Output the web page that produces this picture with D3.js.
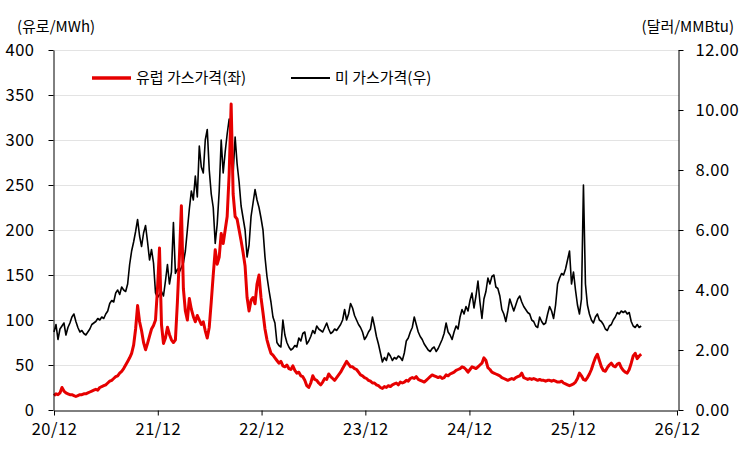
<!DOCTYPE html>
<html>
<head>
<meta charset="utf-8">
<script src="https://cdn.jsdelivr.net/npm/d3@7"></script>
<style>
	body { margin: 0; background: #fff; }
	text { font-family: "Noto Sans CJK KR", "Noto Sans", sans-serif; fill: #000; }
	.grid line { stroke: #e3e3e3; stroke-width: 1; }
	.axis path, .axis line { stroke: #000; stroke-width: 1; }
	.axis text { font-size: 16.5px; letter-spacing: 0.5px; }
</style>
</head>
<body>
<div id="chart"></div>
<script>
////////////////////////////////////////////////////////////
/////////////////////// Data ///////////////////////////////
////////////////////////////////////////////////////////////

//Weekly observations, starting at the first week of Dec 2020
var startDate = "2020-12-01",
	stepDays = 7;

//European gas price (EUR/MWh, left axis)
var euPrice = [
	16,18,17,19,25,21,19,18,17,17,
	16,15,16,17,17,18,18,19,20,21,
	22,23,22,25,26,27,28,30,32,33,
	35,37,38,41,43,46,50,54,58,63,
	72,90,116,98,88,75,67,74,82,90,
	94,100,135,180,95,74,80,92,84,78,
	75,78,120,170,227,135,110,100,124,112,
	104,98,105,100,95,98,88,80,92,120,
	150,178,162,170,196,185,200,215,262,340,
	240,215,212,200,188,175,160,125,110,122,
	125,118,140,150,125,108,90,78,70,63,
	61,58,55,52,54,49,48,50,46,45,
	49,44,41,42,38,37,33,27,25,30,
	38,34,33,30,28,31,35,34,40,37,
	35,33,36,39,42,46,50,54,51,48,
	48,46,45,42,39,38,36,35,33,32,
	30,30,28,27,25,24,26,25,27,26,
	28,29,30,28,31,30,31,33,32,35,
	36,35,37,34,33,32,31,33,35,37,
	39,38,37,36,37,35,36,39,38,40,
	41,42,44,45,46,48,47,45,42,45,
	48,47,46,48,50,52,58,55,47,45,
	42,41,40,39,38,36,35,34,33,34,
	35,34,36,37,38,41,36,35,34,35,
	34,35,34,33,34,33,33,32,33,33,
	32,33,32,31,31,32,30,29,28,27,
	28,29,31,35,41,38,34,33,36,40,
	45,52,58,62,55,48,44,43,47,50,
	52,49,48,51,52,47,44,42,41,45,
	52,60,63,57,60,62
];

//US gas price (USD/MMBtu, right axis)
var usPrice = [
	2.6,2.85,2.35,2.7,2.8,2.9,2.5,2.75,2.9,3.1,
	3.2,2.95,2.75,2.6,2.65,2.55,2.5,2.6,2.7,2.85,
	2.9,2.95,3.05,3.0,3.1,3.05,3.2,3.3,3.55,3.65,
	3.6,3.9,4.0,3.85,4.1,4.0,3.95,4.2,4.85,5.3,
	5.6,5.95,6.35,5.8,5.45,5.9,6.15,5.6,5.0,5.35,
	4.9,3.9,3.75,3.85,3.95,3.8,4.3,4.85,4.2,4.6,
	6.25,4.55,4.7,4.6,4.75,4.9,5.3,6.0,6.7,7.3,
	7.0,7.8,7.1,8.8,8.1,7.9,9.0,9.35,8.0,7.2,
	6.75,5.55,6.2,7.3,9.0,7.9,8.6,9.2,9.7,9.3,
	7.9,9.1,8.2,7.6,6.8,6.4,6.0,5.1,5.5,6.45,
	6.9,7.35,7.0,6.75,6.4,6.0,5.1,4.45,4.0,3.6,
	3.1,2.9,2.25,2.15,2.1,3.0,2.5,2.25,2.1,2.0,
	2.05,2.15,2.1,2.4,2.3,2.55,2.6,2.2,2.3,2.45,
	2.65,2.55,2.8,2.7,2.65,2.6,2.75,2.9,2.7,2.55,
	2.6,2.7,2.65,2.75,2.85,3.0,3.35,3.0,3.2,3.55,
	3.4,3.15,3.0,2.85,2.75,2.6,2.35,2.45,2.6,2.7,
	3.1,2.8,2.45,2.2,1.9,1.6,1.75,1.65,1.9,1.8,
	1.65,1.75,1.7,1.8,1.75,1.65,1.9,2.3,2.4,2.6,
	2.75,3.1,2.85,2.6,2.45,2.35,2.2,2.1,2.0,1.95,
	2.05,2.1,1.95,2.05,2.2,2.35,2.55,2.9,2.6,2.5,
	2.35,2.6,2.8,2.7,3.1,3.35,3.2,3.45,3.3,3.65,
	3.9,3.4,3.8,4.3,3.6,3.05,3.7,3.95,4.4,4.2,
	4.45,4.5,4.1,4.05,3.8,3.35,3.2,2.95,3.3,3.7,
	3.5,3.3,3.5,3.7,3.8,3.6,3.45,3.35,3.25,3.2,
	3.0,2.95,2.8,2.75,3.1,2.95,2.85,2.9,3.2,3.45,
	3.3,3.05,3.5,4.2,4.4,4.55,4.5,4.7,5.0,5.3,
	4.2,4.6,4.0,3.5,3.2,3.7,7.5,4.2,3.5,3.2,
	3.0,2.9,3.1,3.2,3.0,2.95,2.85,2.7,2.65,2.8,
	2.85,3.0,3.1,3.25,3.2,3.3,3.25,3.3,3.2,3.25,
	2.95,2.8,2.75,2.85,2.75,2.8
];

var xTickDates = ["2020-12-01","2021-12-01","2022-12-01","2023-12-01","2024-12-01","2025-12-01","2026-12-01"],
	xTickLabels = ["20/12","21/12","22/12","23/12","24/12","25/12","26/12"];

var leftTicks = [0,50,100,150,200,250,300,350,400],
	rightTicks = [0,2,4,6,8,10,12];

var seriesNames = ["유럽 가스가격(좌)", "미 가스가격(우)"],
	seriesColors = ["#e60000", "#000000"];

////////////////////////////////////////////////////////////
/////////////////////// Set-up /////////////////////////////
////////////////////////////////////////////////////////////

var width = 748,
	height = 451,
	margin = {top: 50, right: 69, bottom: 41, left: 53},
	plotW = width - margin.left - margin.right,
	plotH = height - margin.top - margin.bottom;

var parseDate = d3.timeParse("%Y-%m-%d");
var start = parseDate(startDate);

var dates = euPrice.map(function(d, i) { return d3.timeDay.offset(start, i * stepDays); });

var svg = d3.select("#chart").append("svg")
	.attr("width", width)
	.attr("height", height);

var g = svg.append("g")
	.attr("transform", "translate(" + margin.left + "," + margin.top + ")");

var xScale = d3.scaleTime()
	.domain([parseDate(xTickDates[0]), parseDate(xTickDates[xTickDates.length - 1])])
	.range([1, plotW - 2]);

var yLeft = d3.scaleLinear().domain([0, 400]).range([plotH, 0]);
var yRight = d3.scaleLinear().domain([0, 12]).range([plotH, 0]);

////////////////////////////////////////////////////////////
/////////////////////// Gridlines //////////////////////////
////////////////////////////////////////////////////////////

g.append("g")
	.attr("class", "grid")
	.selectAll("line")
	.data(leftTicks.filter(function(d) { return d > 0; }))
	.enter().append("line")
	.attr("x1", 0)
	.attr("x2", plotW)
	.attr("y1", function(d) { return yLeft(d) + 0.5; })
	.attr("y2", function(d) { return yLeft(d) + 0.5; });

////////////////////////////////////////////////////////////
/////////////////////// Lines //////////////////////////////
////////////////////////////////////////////////////////////

var usLine = d3.line()
	.x(function(d, i) { return xScale(dates[i]); })
	.y(function(d) { return yRight(d); });

var euLine = d3.line()
	.x(function(d, i) { return xScale(dates[i]); })
	.y(function(d) { return yLeft(d); });

g.append("path")
	.datum(usPrice)
	.attr("fill", "none")
	.attr("stroke", seriesColors[1])
	.attr("stroke-width", 1.6)
	.attr("stroke-linejoin", "round")
	.attr("d", usLine);

g.append("path")
	.datum(euPrice)
	.attr("fill", "none")
	.attr("stroke", seriesColors[0])
	.attr("stroke-width", 3)
	.attr("stroke-linejoin", "round")
	.attr("d", euLine);

////////////////////////////////////////////////////////////
/////////////////////// Axes ///////////////////////////////
////////////////////////////////////////////////////////////

var xAxis = d3.axisBottom(xScale)
	.tickValues(xTickDates.map(parseDate))
	.tickFormat(function(d, i) { return xTickLabels[i]; })
	.tickSizeInner(5)
	.tickSizeOuter(0)
	.tickPadding(8);

g.append("g")
	.attr("class", "axis x-axis")
	.attr("transform", "translate(0," + (plotH + 0.5) + ")")
	.call(xAxis);

g.append("g")
	.attr("class", "axis y-left")
	.attr("transform", "translate(0.5,0)")
	.call(d3.axisLeft(yLeft).tickValues(leftTicks).tickSizeInner(5).tickSizeOuter(0).tickPadding(14));

g.append("g")
	.attr("class", "axis y-right")
	.attr("transform", "translate(" + (plotW - 0.5) + ",0)")
	.call(d3.axisRight(yRight).tickValues(rightTicks).tickSizeInner(5).tickSizeOuter(0).tickPadding(12)
		.tickFormat(d3.format(".2f")));

//Unit labels
svg.append("text")
	.attr("x", 17)
	.attr("y", 32)
	.style("font-size", "15px")
	.text("(유로/MWh)");

svg.append("text")
	.attr("x", 734)
	.attr("y", 32)
	.attr("text-anchor", "end")
	.style("font-size", "15px")
	.text("(달러/MMBtu)");

////////////////////////////////////////////////////////////
/////////////////////// Legend /////////////////////////////
////////////////////////////////////////////////////////////

var legendX = [92, 291];

var legend = svg.selectAll(".legend-item")
	.data(seriesNames)
	.enter().append("g")
	.attr("class", "legend-item")
	.attr("transform", function(d, i) { return "translate(" + legendX[i] + ",78)"; });

legend.append("line")
	.attr("x1", 0)
	.attr("x2", 39)
	.attr("stroke", function(d, i) { return seriesColors[i]; })
	.attr("stroke-width", function(d, i) { return i === 0 ? 3.5 : 2; });

legend.append("text")
	.attr("x", 44)
	.attr("dy", "0.35em")
	.style("font-size", "15px")
	.text(function(d) { return d; });
</script>
</body>
</html>
